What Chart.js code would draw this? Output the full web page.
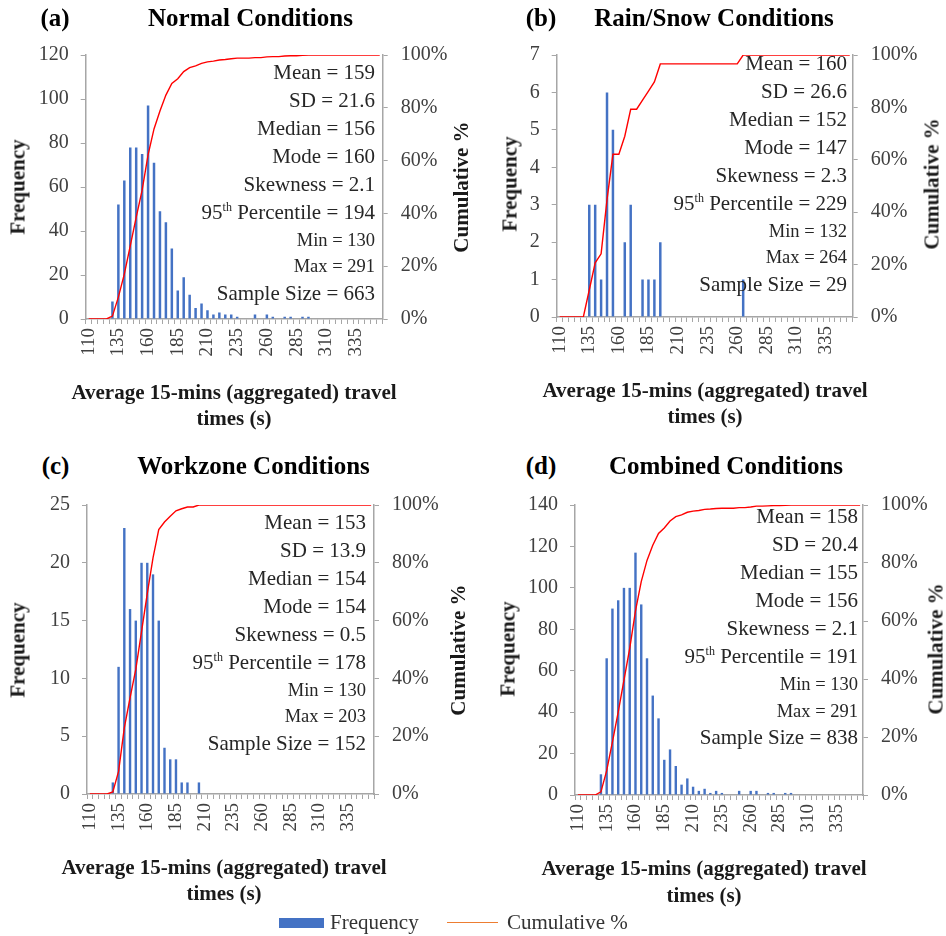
<!DOCTYPE html>
<html><head><meta charset="utf-8">
<script src="https://cdn.jsdelivr.net/npm/chart.js@4.4.1/dist/chart.umd.min.js"></script>
<style>
html,body{margin:0;padding:0;background:#fff;}
body{width:946px;height:936px;position:relative;overflow:hidden;font-family:'Liberation Serif','Times New Roman',serif;}
canvas{position:absolute;}
.t{position:absolute;white-space:nowrap;transform:translate(-50%,-50%);line-height:1;}
.pt{font-weight:bold;font-size:25px;color:#000;}
.ax{font-weight:bold;font-size:21px;color:#1a1a1a;}
.rot{transform:translate(-50%,-50%) rotate(-90deg);}
.st{position:absolute;white-space:nowrap;font-size:21px;color:#262626;text-align:right;height:28px;line-height:28px;}
.st.sm{font-size:18.5px;}
.st sup{font-size:12px;line-height:0;vertical-align:super;}
.lg{position:absolute;font-size:21px;color:#333;white-space:nowrap;line-height:1;transform:translateY(-50%);}
</style>
</head><body>
<script>
// ---------- DATA ----------
const bins = [110,115,120,125,130,135,140,145,150,155,160,165,170,175,180,185,190,195,200,205,210,215,220,225,230,235,240,245,250,255,260,265,270,275,280,285,290,295,300,305,310,315,320,325,330,335,340,345,350,355];
const xTickLabels = ['110','135','160','185','210','235','260','285','310','335'];
const pctTicks = [0,20,40,60,80,100];

const freqNormal = [0,0,0,0,8,52,63,78,78,75,97,71,49,44,32,13,19,11,5,7,4,2,3,2,2,1,0,0,2,0,2,1,0,1,1,0,1,1,0,0,0,0,0,0,0,0,0,0,0,0];
const cumNormal  = [0,0,0,0,1.1,8.3,17.0,27.7,38.5,48.8,62.2,72.0,78.8,84.8,89.2,91.0,93.7,95.2,95.9,96.8,97.4,97.7,98.1,98.3,98.6,98.8,98.8,98.8,99.0,99.0,99.3,99.4,99.4,99.6,99.7,99.7,99.9,100,100,100,100,100,100,100,100,100,100,100,100,100];

const freqRain = [0,0,0,0,0,3,3,1,6,5,0,2,3,0,1,1,1,2,0,0,0,0,0,0,0,0,0,0,0,0,0,1,0,0,0,0,0,0,0,0,0,0,0,0,0,0,0,0,0,0];
const cumRain  = [0,0,0,0,0,10.3,20.7,24.1,44.8,62.1,62.1,69.0,79.3,79.3,82.8,86.2,89.7,96.6,96.6,96.6,96.6,96.6,96.6,96.6,96.6,96.6,96.6,96.6,96.6,96.6,96.6,100,100,100,100,100,100,100,100,100,100,100,100,100,100,100,100,100,100,100];

const freqWork = [0,0,0,0,1,11,23,16,15,20,20,19,15,4,3,3,1,1,0,1,0,0,0,0,0,0,0,0,0,0,0,0,0,0,0,0,0,0,0,0,0,0,0,0,0,0,0,0,0,0];
const cumWork  = [0,0,0,0,0.7,7.8,22.9,33.3,43.1,56.2,69.3,81.7,91.5,94.1,96.1,98.0,98.7,99.3,99.3,100,100,100,100,100,100,100,100,100,100,100,100,100,100,100,100,100,100,100,100,100,100,100,100,100,100,100,100,100,100,100];

const freqComb = [0,0,0,0,10,66,90,94,100,100,117,92,66,48,37,17,22,14,5,8,4,2,3,1,2,1,0,0,2,0,2,2,0,1,1,0,1,1,0,0,0,0,0,0,0,0,0,0,0,0];
const cumComb  = [0,0,0,0,1.1,8.4,18.3,28.6,39.6,50.6,63.5,73.6,80.9,86.1,90.2,92.1,94.5,96.0,96.6,97.5,97.9,98.1,98.5,98.6,98.8,98.9,98.9,98.9,99.1,99.1,99.3,99.6,99.6,99.7,99.8,99.8,99.9,100,100,100,100,100,100,100,100,100,100,100,100,100];

const statsNormal = ['Mean = 159','SD = 21.6','Median = 156','Mode = 160','Skewness = 2.1','95th Percentile = 194','Min = 130','Max = 291','Sample Size = 663'];
const statsRain   = ['Mean = 160','SD = 26.6','Median = 152','Mode = 147','Skewness = 2.3','95th Percentile = 229','Min = 132','Max = 264','Sample Size = 29'];
const statsWork   = ['Mean = 153','SD = 13.9','Median = 154','Mode = 154','Skewness = 0.5','95th Percentile = 178','Min = 130','Max = 203','Sample Size = 152'];
const statsComb   = ['Mean = 158','SD = 20.4','Median = 155','Mode = 156','Skewness = 2.1','95th Percentile = 191','Min = 130','Max = 291','Sample Size = 838'];

// ---------- LAYOUT ----------
const FONT = "'Liberation Serif','Times New Roman',serif";
const AXIS = '#a6a6a6';
const TICK = '#404040';
const panels = [
  {tag:'(a)', title:'Normal Conditions', tagXY:[55,17], titleXY:[250.5,17],
   cv:{x0:0,x1:473,y0:30,y1:385}, area:{L:85.7,R:382.7,T:55,B:319},
   freq:freqNormal, cum:cumNormal, stats:statsNormal, yMax:120, yStep:20,
   freqXY:[18,187], cumXY:[461,187], xTitle:[234,392,418], statR:375, statY:71.7},
  {tag:'(b)', title:'Rain/Snow Conditions', tagXY:[541,17], titleXY:[714,17],
   cv:{x0:473,x1:946,y0:30,y1:385}, area:{L:556.7,R:852.7,T:50,B:317},
   freq:freqRain, cum:cumRain, stats:statsRain, yMax:7, yStep:1,
   freqXY:[510,184], cumXY:[932,184], xTitle:[705,390,416], statR:847, statY:62.7},
  {tag:'(c)', title:'Workzone Conditions', tagXY:[55.5,465], titleXY:[253.5,465],
   cv:{x0:0,x1:473,y0:480,y1:860}, area:{L:87,R:374,T:505,B:794},
   freq:freqWork, cum:cumWork, stats:statsWork, yMax:25, yStep:5,
   freqXY:[18,650], cumXY:[458,650], xTitle:[224,867,893], statR:366, statY:521.7},
  {tag:'(d)', title:'Combined Conditions', tagXY:[541,465], titleXY:[726,465],
   cv:{x0:473,x1:946,y0:480,y1:860}, area:{L:575,R:863,T:503.3,B:795},
   freq:freqComb, cum:cumComb, stats:statsComb, yMax:140, yStep:20,
   freqXY:[508,649], cumXY:[936,649], xTitle:[704,868,895], statR:858, statY:516}
];
const statGaps = [0,28,56,84,112,140,168,194.5,221];

function addText(cls, txt, x, y){
  const d = document.createElement('div');
  d.className = cls; d.textContent = txt;
  d.style.left = x+'px'; d.style.top = y+'px';
  document.body.appendChild(d);
  return d;
}

function makePanel(p){
  const c = document.createElement('canvas');
  const w = p.cv.x1 - p.cv.x0, h = p.cv.y1 - p.cv.y0;
  c.width = w; c.height = h;
  c.style.left = p.cv.x0+'px'; c.style.top = p.cv.y0+'px';
  c.style.width = w+'px'; c.style.height = h+'px';
  document.body.appendChild(c);
  const leftW = p.area.L - p.cv.x0, rightW = p.cv.x1 - p.area.R;
  const bottomH = p.cv.y1 - p.area.B, topPad = p.area.T - p.cv.y0;
  new Chart(c, {
    data: {
      labels: bins.map(String),
      datasets: [
        {type:'line', label:'Cumulative %', data:p.cum, yAxisID:'y2', borderColor:'#ff0000', borderWidth:1.4,
         pointRadius:0, tension:0, fill:false, order:0},
        {type:'bar', label:'Frequency', data:p.freq, yAxisID:'y', backgroundColor:'#4472c4',
         barPercentage:0.42, categoryPercentage:1, order:1}
      ]
    },
    options: {
      responsive:false, animation:false, devicePixelRatio:1,
      layout:{padding:{top:topPad,left:0,right:0,bottom:0}},
      plugins:{legend:{display:false}, tooltip:{enabled:false}},
      scales:{
        x:{type:'category', offset:true,
           grid:{offset:true, drawOnChartArea:false, drawTicks:true, tickLength:5, color:AXIS, lineWidth:1},
           border:{color:AXIS, width:1.5},
           ticks:{autoSkip:false, maxRotation:90, minRotation:90, padding:4, color:TICK, font:{family:FONT, size:19},
             callback(v){ const l = this.getLabelForValue(v); return xTickLabels.includes(l) ? l : ''; }},
           afterFit(s){ s.height = bottomH; }},
        y:{position:'left', min:0, max:p.yMax,
           ticks:{stepSize:p.yStep, padding:12, color:TICK, font:{family:FONT, size:20}},
           grid:{drawOnChartArea:false, drawTicks:true, tickLength:5, color:AXIS},
           border:{color:AXIS, width:1.5},
           afterFit(s){ s.width = leftW; }},
        y2:{position:'right', min:0, max:100,
           afterBuildTicks(s){ s.ticks = pctTicks.map(v=>({value:v})); },
           ticks:{padding:13, color:TICK, font:{family:FONT, size:20}, callback:v=>v+'%'},
           grid:{drawOnChartArea:false, drawTicks:true, tickLength:5, color:AXIS},
           border:{color:AXIS, width:1.5},
           afterFit(s){ s.width = rightW; }}
      }
    }
  });
  addText('t pt', p.tag, p.tagXY[0], p.tagXY[1]);
  addText('t pt', p.title, p.titleXY[0], p.titleXY[1]);
  addText('t ax rot', 'Frequency', p.freqXY[0], p.freqXY[1]);
  addText('t ax rot', 'Cumulative %', p.cumXY[0], p.cumXY[1]);
  addText('t ax', 'Average 15-mins (aggregated) travel', p.xTitle[0], p.xTitle[1]);
  addText('t ax', 'times (s)', p.xTitle[0], p.xTitle[2]);
  p.stats.forEach((s,i)=>{
    const d = document.createElement('div');
    d.className = 'st' + ((i===6||i===7) ? ' sm' : '');
    d.innerHTML = s.replace('95th','95<sup>th</sup>');
    d.style.right = (946 - p.statR)+'px';
    d.style.top = (p.statY + statGaps[i] - 14)+'px';
    document.body.appendChild(d);
  });
}
panels.forEach(makePanel);

// legend
const sw = document.createElement('div');
sw.style.cssText = 'position:absolute;left:279px;top:918px;width:45px;height:10px;background:#4472c4;';
document.body.appendChild(sw);
const ln = document.createElement('div');
ln.style.cssText = 'position:absolute;left:447px;top:922px;width:51px;height:0;border-top:1.5px solid #ed7d31;';
document.body.appendChild(ln);
addText('lg', 'Frequency', 330, 922);
addText('lg', 'Cumulative %', 507, 922);
</script>
</body></html>
